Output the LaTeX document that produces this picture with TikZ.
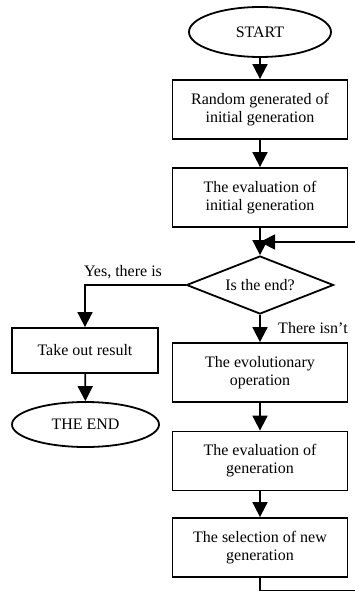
\documentclass[tikz,border=0pt]{standalone}
\usepackage{fontspec}
\setmainfont{Liberation Serif}
\usetikzlibrary{shapes.geometric, arrows.meta}

\begin{document}
\begin{tikzpicture}[x=1pt, y=-1pt, line width=1.8pt, font=\fontsize{16}{18}\selectfont]
	\def\boxw{175}
	\def\boxh{59}
		\tikzset	{
		procbox/.style={draw, rectangle, align=center, minimum width=\boxw, minimum height=\boxh, inner sep=0pt},
		terminal/.style={draw, ellipse, inner sep=0pt},
		decision/.style={draw, diamond, aspect=2.5, minimum width=147, minimum height=58, inner sep=0pt},
		flow/.style={-{Triangle[length=15pt, width=15pt]}},
	}
	\useasboundingbox (0,0) rectangle (354,591);

	\node[terminal, minimum width=142, minimum height=50] (start) at (260,32) {START};
	\node[procbox] (random) at (260,109.5) {Random generated of\\initial generation};
	\node[procbox] (evalinit) at (260,197.5) {The evaluation of\\initial generation};
	\node[decision] (isend) at (260,285) {Is the end?};
	\node[procbox] (evolve) at (260,372.5) {The evolutionary\\operation};
	\node[procbox] (evalgen) at (260,461) {The evaluation of\\generation};
	\node[procbox] (select) at (260,547.5) {The selection of new\\generation};

	\node[procbox, minimum width=146, minimum height=45] (result) at (85,350.5) {Take out result};
	\node[terminal, minimum width=147, minimum height=45] (theend) at (85.5,424.5) {THE END};

	\node (yeslbl) at (123,272) {Yes, there is};
	\node[anchor=west] (nolbl) at (274,328) {There isn’t};

	\draw[flow]	(start) -- (random);
	\draw[flow]	(random) -- (evalinit);
	\draw[flow]	(evalinit) -- (isend);
	\draw[flow]	(isend) -- (evolve);
	\draw[flow]	(evolve) -- (evalgen);
	\draw[flow]	(evalgen) -- (select);

	\draw[flow]	(isend.west) -| (result);
	\draw[flow]	(result) -- (theend);

	% back to the test
	\coordinate (loopbot) at (362,590.5);
	\coordinate (looptop) at (362,242);
	\draw[flow]	(select.south) |- (loopbot) -- (looptop) -- (looptop -| isend.north);
\end{tikzpicture}
\end{document}
